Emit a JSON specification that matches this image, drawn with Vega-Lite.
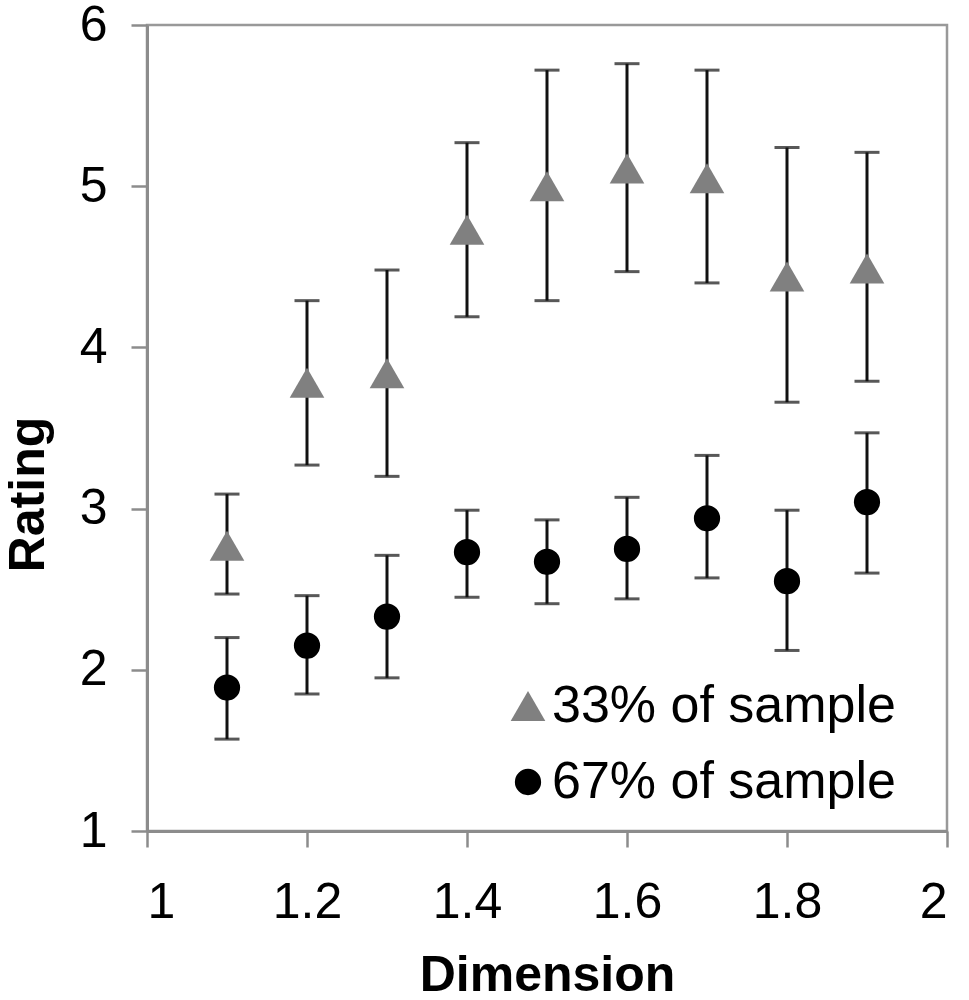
{
  "$schema": "https://vega.github.io/schema/vega-lite/v6.json",
  "autosize": "none",
  "width": 800,
  "height": 806,
  "padding": {"left": 147, "top": 25, "right": 22, "bottom": 169},
  "background": "white",
  "config": {
    "font": "Liberation Sans",
    "view": {"stroke": "#999999", "strokeWidth": 2.5},
    "axis": {
      "grid": false,
      "domainColor": "#8c8c8c",
      "domainWidth": 3,
      "tickColor": "#8c8c8c",
      "tickWidth": 2.5,
      "tickSize": 16,
      "labelFont": "Liberation Sans",
      "labelFontSize": 50,
      "labelColor": "#000000",
      "titleFont": "Liberation Sans",
      "titleFontSize": 50,
      "titleFontWeight": "bold",
      "titleColor": "#000000"
    }
  },
  "data": {
    "values": [
      {"dim": 1.1, "group": "33% of sample", "mean": 2.77, "lo": 2.47, "hi": 3.09},
      {"dim": 1.2, "group": "33% of sample", "mean": 3.78, "lo": 3.27, "hi": 4.29},
      {"dim": 1.3, "group": "33% of sample", "mean": 3.84, "lo": 3.20, "hi": 4.48},
      {"dim": 1.4, "group": "33% of sample", "mean": 4.73, "lo": 4.19, "hi": 5.27},
      {"dim": 1.5, "group": "33% of sample", "mean": 5.00, "lo": 4.29, "hi": 5.72},
      {"dim": 1.6, "group": "33% of sample", "mean": 5.11, "lo": 4.47, "hi": 5.76},
      {"dim": 1.7, "group": "33% of sample", "mean": 5.05, "lo": 4.40, "hi": 5.72},
      {"dim": 1.8, "group": "33% of sample", "mean": 4.44, "lo": 3.66, "hi": 5.24},
      {"dim": 1.9, "group": "33% of sample", "mean": 4.49, "lo": 3.79, "hi": 5.21},
      {"dim": 1.1, "group": "67% of sample", "mean": 1.89, "lo": 1.57, "hi": 2.20},
      {"dim": 1.2, "group": "67% of sample", "mean": 2.15, "lo": 1.85, "hi": 2.46},
      {"dim": 1.3, "group": "67% of sample", "mean": 2.33, "lo": 1.95, "hi": 2.71},
      {"dim": 1.4, "group": "67% of sample", "mean": 2.73, "lo": 2.45, "hi": 2.99},
      {"dim": 1.5, "group": "67% of sample", "mean": 2.67, "lo": 2.41, "hi": 2.93},
      {"dim": 1.6, "group": "67% of sample", "mean": 2.75, "lo": 2.44, "hi": 3.07},
      {"dim": 1.7, "group": "67% of sample", "mean": 2.94, "lo": 2.57, "hi": 3.33},
      {"dim": 1.8, "group": "67% of sample", "mean": 2.55, "lo": 2.12, "hi": 2.99},
      {"dim": 1.9, "group": "67% of sample", "mean": 3.04, "lo": 2.60, "hi": 3.47}
    ]
  },
  "encoding": {
    "x": {
      "field": "dim",
      "type": "quantitative",
      "title": "Dimension",
      "scale": {"domain": [1, 2], "nice": false, "zero": false},
      "axis": {
        "values": [1, 1.2, 1.4, 1.6, 1.8, 2],
        "format": "~g",
        "labelPadding": 30,
        "titleBaseline": "alphabetic",
        "titleY": 159
      }
    }
  },
  "layer": [
    {
      "mark": {"type": "rule", "color": "#111111", "strokeWidth": 3},
      "encoding": {
        "y": {
          "field": "lo",
          "type": "quantitative",
          "title": "Rating",
          "scale": {"domain": [1, 6], "nice": false, "zero": false},
          "axis": {
            "values": [1, 2, 3, 4, 5, 6],
            "format": "d",
            "labelPadding": 24,
            "titleAngle": -90,
            "titleAlign": "center",
            "titleBaseline": "alphabetic",
            "titleX": -104,
            "titleY": 469
          }
        },
        "y2": {"field": "hi"}
      }
    },
    {
      "mark": {"type": "tick", "color": "#111111", "orient": "horizontal", "size": 25, "thickness": 3},
      "encoding": {"y": {"field": "lo", "type": "quantitative"}}
    },
    {
      "mark": {"type": "tick", "color": "#111111", "orient": "horizontal", "size": 25, "thickness": 3},
      "encoding": {"y": {"field": "hi", "type": "quantitative"}}
    },
    {
      "mark": {"type": "point", "filled": true, "opacity": 1},
      "encoding": {
        "y": {"field": "mean", "type": "quantitative"},
        "shape": {
          "field": "group",
          "type": "nominal",
          "scale": {"domain": ["33% of sample", "67% of sample"], "range": ["triangle-up", "circle"]},
          "legend": {
            "orient": "none",
            "legendX": 355,
            "legendY": 655,
            "title": null,
            "labelFontSize": 52,
            "labelFont": "Liberation Sans",
            "labelColor": "#000000",
            "labelLimit": 0,
            "labelOffset": -2,
            "rowPadding": 24,
            "symbolStrokeWidth": 0,
            "symbolOpacity": 1
          }
        },
        "color": {
          "field": "group",
          "type": "nominal",
          "scale": {"domain": ["33% of sample", "67% of sample"], "range": ["#808080", "#000000"]}
        },
        "size": {
          "field": "group",
          "type": "nominal",
          "scale": {"domain": ["33% of sample", "67% of sample"], "range": [1200, 690]}
        }
      }
    }
  ]
}
